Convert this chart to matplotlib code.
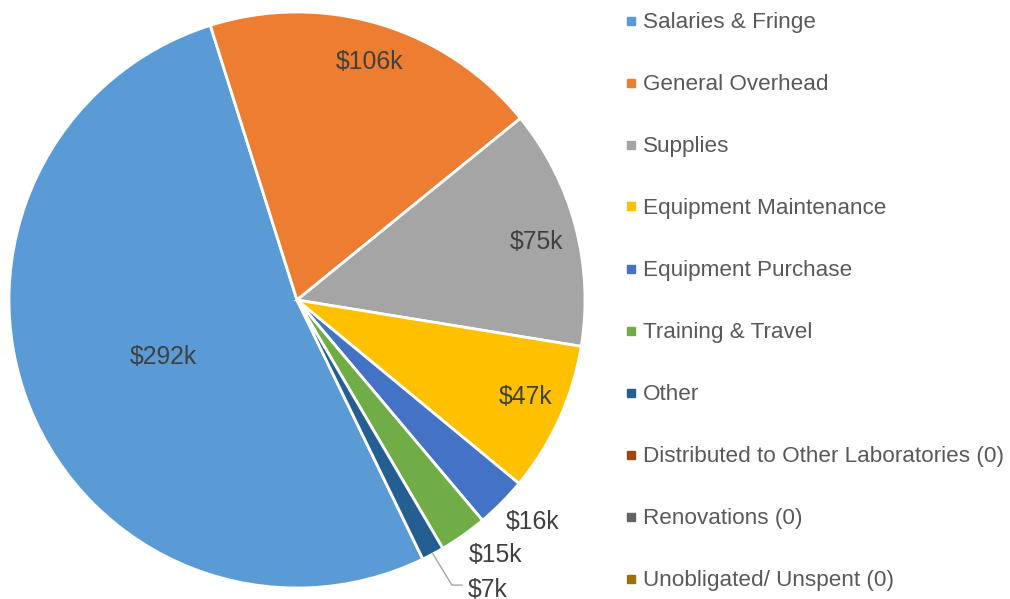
import matplotlib.pyplot as plt
import numpy as np
from matplotlib.patches import Rectangle

categories = ["Salaries & Fringe", "General Overhead", "Supplies",
              "Equipment Maintenance", "Equipment Purchase", "Training & Travel",
              "Other", "Distributed to Other Laboratories (0)", "Renovations (0)",
              "Unobligated/ Unspent (0)"]
values = [292, 106, 75, 47, 16, 15, 7, 0, 0, 0]
value_labels = ["$292k", "$106k", "$75k", "$47k", "$16k", "$15k", "$7k", "", "", ""]
colors = ["#5B9BD5", "#ED7D31", "#A5A5A5", "#FFC000", "#4472C4", "#70AD47",
          "#255E91", "#9E480E", "#636363", "#997300"]

# label placement (data units of the pie axes, radius = 1)
label_pos = [(-0.465, -0.197), (0.253, 0.826), (0.833, 0.201), (0.792, -0.337),
             (0.819, -0.771), (0.688, -0.885), (0.663, -1.007)]

plt.rcParams['font.family'] = ['Liberation Sans', 'DejaVu Sans']

W, H = 1010, 599
fig = plt.figure(figsize=(W / 100, H / 100), dpi=100)
cx, cy, R = 297, 300, 288
ax = fig.add_axes([(cx - R) / W, (H - cy - R) / H, 2 * R / W, 2 * R / H])

shown = [i for i, v in enumerate(values) if v > 0]
wedges, _ = ax.pie([values[i] for i in shown], colors=[colors[i] for i in shown],
                   startangle=-64.1, counterclock=False, radius=1,
                   wedgeprops=dict(edgecolor="white", linewidth=2))
ax.set_xlim(-1, 1)
ax.set_ylim(-1, 1)
for w in wedges:
    w.set_clip_on(False)

for k, i in enumerate(shown):
    x, y = label_pos[k]
    ax.text(x, y, value_labels[i], ha="center", va="center", fontsize=17.8,
            color="#404040", clip_on=False)

# leader line for the smallest slice
w = wedges[-1]
mid = np.deg2rad((w.theta1 + w.theta2) / 2)
ex, ey = np.cos(mid), np.sin(mid)
lx, ly = label_pos[-1]
ax.plot([ex, ex + 0.066, lx - 0.09], [ey, ly + 0.017, ly + 0.017], color="#A6A6A6",
        lw=1, clip_on=False)

# legend
for i, name in enumerate(categories):
    yc = 20.5 + i * 62
    fig.patches.append(Rectangle((627 / W, 1 - (yc + 4) / H), 8 / W, 8 / H,
                                 transform=fig.transFigure, color=colors[i]))
    fig.text(643 / W, 1 - (yc + 2) / H, name, ha="left", va="center", fontsize=16.2,
             color="#595959")

plt.savefig("out.png", dpi=100)
